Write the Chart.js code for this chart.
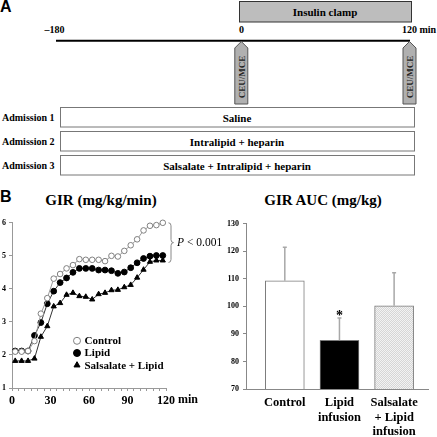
<!DOCTYPE html>
<html>
<head>
<meta charset="utf-8">
<script src="https://cdn.jsdelivr.net/npm/chart.js@4/dist/chart.umd.min.js"></script>
<style>
  body { margin: 0; background: #fff; }
  #fig { position: relative; width: 437px; height: 437px; overflow: hidden; font-family: "Liberation Serif", "Times New Roman", serif; }
  .panel { position: absolute; font-family: "Liberation Sans", Arial, sans-serif; font-weight: bold; font-size: 16px; line-height: 18px; }
  .title { position: absolute; font-weight: bold; font-size: 15px; line-height: 17px; white-space: nowrap; transform: translateX(-50%); }
  canvas { position: absolute; }
</style>
</head>
<body>
<div id="fig">
  <svg id="schema" width="437" height="185" style="position:absolute;left:0;top:0"></svg>
  <div class="panel" style="left:0;top:-2px">A</div>
  <div class="panel" style="left:0;top:188px">B</div>
  <div class="title" style="left:101px;top:192px">GIR (mg/kg/min)</div>
  <div class="title" style="left:323px;top:192px">GIR AUC (mg/kg)</div>
  <canvas id="girChart" width="222" height="222" style="left:0;top:215px"></canvas>
  <canvas id="aucChart" width="217" height="222" style="left:220px;top:215px"></canvas>
</div>
<script>
// Panel A - study design
const timelineLabels = ['\u2013180', '0', '120 min'];
const clampLabel = 'Insulin clamp';
const markerLabel = 'CEU/MCE';
const admissionLabels = ['Admission 1', 'Admission 2', 'Admission 3'];
const admissionTreatments = ['Saline', 'Intralipid + heparin', 'Salsalate + Intralipid + heparin'];

// Panel B - GIR time course
const times = [2.5, 7.5, 12.5, 17.5, 22.5, 27.5, 32.5, 37.5, 42.5, 47.5, 52.5, 57.5,
               62.5, 67.5, 72.5, 77.5, 82.5, 87.5, 92.5, 97.5, 102.5, 107.5, 112.5, 117.5];
const controlGIR = [2.10, 2.10, 2.12, 2.42, 3.25, 3.72, 4.31, 4.45, 4.62, 4.72, 4.90, 4.88,
                    4.88, 4.88, 4.84, 5.00, 4.98, 5.15, 5.32, 5.50, 5.77, 5.91, 5.93, 6.00];
const lipidGIR = [2.12, 2.12, 2.12, 2.59, 2.98, 3.55, 3.93, 4.19, 4.33, 4.50, 4.62, 4.62,
                  4.62, 4.57, 4.57, 4.55, 4.47, 4.51, 4.64, 4.79, 4.92, 4.99, 5.01, 5.01];
const salsalateGIR = [1.82, 1.82, 1.82, 1.89, 2.55, 2.87, 3.47, 3.57, 3.82, 3.88, 3.78, 3.76,
                      3.68, 3.84, 3.88, 3.96, 3.97, 4.05, 4.12, 4.34, 4.58, 4.82, 4.86, 4.86];
const seriesNames = ['Control', 'Lipid', 'Salsalate + Lipid'];
const girTicksX = [0, 30, 60, 90, 120];
const pBracket = [6.0, 4.8];

// Panel B - GIR AUC
const aucCategories = [['Control'], ['Lipid', 'infusion'], ['Salsalate', '+ Lipid', 'infusion']];
const aucMeans = [109.3, 87.7, 100.2];
const aucSEM = [12.2, 8.1, 12.0];
const aucMarks = ['', '*', ''];

const serif = '"Liberation Serif", "Times New Roman", serif';

// ---- Panel A drawn as SVG ----
const svg = document.getElementById('schema');
function el(tag, attrs, text) {
    const e = document.createElementNS('http://www.w3.org/2000/svg', tag);
    for (const k in attrs) e.setAttribute(k, attrs[k]);
    if (text !== undefined) e.textContent = text;
    svg.appendChild(e);
    return e;
}
const boldText = { 'font-family': serif, 'font-weight': 'bold', fill: '#000' };

el('rect', { x: 239.5, y: 1.5, width: 172, height: 20.5, fill: '#bdbdbd', stroke: '#333' });
el('text', Object.assign({ x: 325, y: 12, 'font-size': 11, 'text-anchor': 'middle', 'dominant-baseline': 'central' }, boldText), clampLabel);

const tickPos = [[54.5, 'middle'], [241.5, 'middle'], [402, 'start']];
timelineLabels.forEach((t, i) => {
    el('text', Object.assign({ x: tickPos[i][0], y: 33, 'font-size': 10, 'text-anchor': tickPos[i][1] }, boldText), t);
});
el('line', { x1: 56, y1: 40.7, x2: 410, y2: 40.7, stroke: '#000', 'stroke-width': 2 });

[241.3, 409.5].forEach(cx => {
    el('path', { d: `M${cx},41.5 L${cx + 6.5},48 L${cx + 6.5},104 L${cx - 6.5},104 L${cx - 6.5},48 Z`, fill: '#b0b0b0', stroke: '#555' });
    el('text', Object.assign({ x: 0, y: 0, 'font-size': 9, 'text-anchor': 'middle', 'dominant-baseline': 'central',
        transform: `translate(${cx + 0.5},77) rotate(-90)` }, boldText, { fill: '#222' }), markerLabel);
});

const rowTops = [107.5, 131.5, 155.5];
admissionLabels.forEach((lab, i) => {
    const y = rowTops[i];
    el('rect', { x: 60.5, y: y, width: 354, height: 19.5, fill: '#fff', stroke: '#777' });
    el('text', Object.assign({ x: 237, y: y + 10, 'font-size': 11, 'text-anchor': 'middle', 'dominant-baseline': 'central' }, boldText), admissionTreatments[i]);
    el('text', Object.assign({ x: 54.5, y: y + 10, 'font-size': 10, 'text-anchor': 'end', 'dominant-baseline': 'central' }, boldText), lab);
});

// ---- Panel B left: GIR over time ----
const girLegend = {
    id: 'girLegend',
    afterDraw(chart) {
        const { ctx, chartArea, scales } = chart;
        ctx.save();
        chart.data.datasets.forEach((ds, i) => {
            const x = chartArea.left + 65;
            const y = chartArea.top + 118 + i * 12.2;
            ctx.fillStyle = ds.pointBackgroundColor;
            ctx.strokeStyle = ds.pointBorderColor;
            ctx.lineWidth = 1;
            Chart.helpers.drawPoint(ctx, { pointStyle: ds.pointStyle, radius: 3.5, borderWidth: 1, rotation: 0 }, x, y);
            ctx.fillStyle = '#000';
            ctx.font = 'bold 11px ' + serif;
            ctx.textAlign = 'left';
            ctx.textBaseline = 'middle';
            ctx.fillText(ds.label, x + 7.5, y + 0.5);
        });

        // "min" after the last x label
        const xs = scales.x;
        ctx.font = 'bold 12px ' + serif;
        ctx.textBaseline = 'top';
        const x120 = xs.getPixelForValue(120);
        ctx.fillText('min', x120 + ctx.measureText('120').width / 2 + 3, xs.top + 6);

        // brace + P value
        const y0 = scales.y.getPixelForValue(pBracket[0]);
        const y1 = scales.y.getPixelForValue(pBracket[1]);
        const ym = (y0 + y1) / 2;
        const bx = chartArea.right + 2.5;
        ctx.strokeStyle = '#888';
        ctx.lineWidth = 1;
        ctx.beginPath();
        ctx.moveTo(bx, y0);
        ctx.quadraticCurveTo(bx + 2.5, y0, bx + 2.5, y0 + 3);
        ctx.lineTo(bx + 2.5, ym - 3);
        ctx.quadraticCurveTo(bx + 2.5, ym, bx + 5, ym);
        ctx.quadraticCurveTo(bx + 2.5, ym, bx + 2.5, ym + 3);
        ctx.lineTo(bx + 2.5, y1 - 3);
        ctx.quadraticCurveTo(bx + 2.5, y1, bx, y1);
        ctx.stroke();

        ctx.fillStyle = '#000';
        ctx.textBaseline = 'middle';
        ctx.font = 'italic 11.5px ' + serif;
        const px = chartArea.right + 11;
        ctx.fillText('P', px, ym);
        const pw = ctx.measureText('P').width;
        ctx.font = '11.5px ' + serif;
        ctx.fillText(' < 0.001', px + pw, ym);
        ctx.restore();
    }
};

const toPoints = arr => times.map((t, i) => ({ x: t, y: arr[i] }));

new Chart(document.getElementById('girChart'), {
    type: 'line',
    data: {
        datasets: [{
            label: seriesNames[0],
            data: toPoints(controlGIR),
            borderColor: '#9a9a9a',
            borderWidth: 1,
            pointStyle: 'circle',
            pointRadius: 2.8,
            pointBackgroundColor: '#fff',
            pointBorderColor: '#808080',
            pointBorderWidth: 1,
            clip: false
        }, {
            label: seriesNames[1],
            data: toPoints(lipidGIR),
            borderColor: '#333',
            borderWidth: 1,
            pointStyle: 'circle',
            pointRadius: 2.9,
            pointBackgroundColor: '#000',
            pointBorderColor: '#000',
            pointBorderWidth: 1,
            clip: false
        }, {
            label: seriesNames[2],
            data: toPoints(salsalateGIR),
            borderColor: '#333',
            borderWidth: 1,
            pointStyle: 'triangle',
            pointRadius: 3,
            pointBackgroundColor: '#000',
            pointBorderColor: '#000',
            pointBorderWidth: 1,
            clip: false
        }]
    },
    options: {
        responsive: false,
        animation: false,
        layout: { padding: { left: 0, top: 7, right: 56, bottom: 29 } },
        plugins: { legend: { display: false }, tooltip: { enabled: false } },
        scales: {
            x: {
                type: 'linear',
                min: 0,
                max: 120,
                afterFit: s => { s.height = 20; },
                ticks: {
                    stepSize: 5,
                    autoSkip: false,
                    maxRotation: 0,
                    padding: 3,
                    color: '#000',
                    font: { family: serif, weight: 'bold', size: 12 },
                    callback: v => girTicksX.includes(v) ? String(v) : ''
                },
                grid: { drawOnChartArea: false, tickLength: 3, color: '#999' },
                border: { color: '#999' }
            },
            y: {
                min: 1,
                max: 6,
                afterFit: s => { s.width = 12; },
                ticks: {
                    stepSize: 1,
                    padding: 3,
                    color: '#000',
                    font: { family: serif, weight: 'bold', size: 8 }
                },
                grid: { drawOnChartArea: false, tickLength: 3, color: '#999' },
                border: { color: '#999' }
            }
        }
    },
    plugins: [girLegend]
});

// ---- Panel B right: GIR AUC ----
const pat = document.createElement('canvas');
pat.width = 2; pat.height = 2;
const pctx = pat.getContext('2d');
pctx.fillStyle = '#f3f3f3'; pctx.fillRect(0, 0, 2, 2);
pctx.fillStyle = '#d6d6d6'; pctx.fillRect(0, 0, 1, 1); pctx.fillRect(1, 1, 1, 1);
const stipple = pctx.createPattern(pat, 'repeat');

const errorBars = {
    id: 'errorBars',
    afterDatasetsDraw(chart) {
        const { ctx, scales: { y } } = chart;
        const meta = chart.getDatasetMeta(0);
        ctx.save();
        meta.data.forEach((bar, i) => {
            const top = y.getPixelForValue(aucMeans[i] + aucSEM[i]);
            ctx.strokeStyle = '#a8a8a8';
            ctx.lineWidth = 1.5;
            ctx.beginPath();
            ctx.moveTo(bar.x, bar.y);
            ctx.lineTo(bar.x, top);
            ctx.moveTo(bar.x - 2, top);
            ctx.lineTo(bar.x + 2, top);
            ctx.stroke();
            if (aucMarks[i]) {
                ctx.fillStyle = '#000';
                ctx.font = 'bold 14px ' + serif;
                ctx.textAlign = 'center';
                ctx.textBaseline = 'alphabetic';
                ctx.fillText(aucMarks[i], bar.x, top + 2);
            }
        });
        ctx.restore();
    }
};

new Chart(document.getElementById('aucChart'), {
    type: 'bar',
    data: {
        datasets: [{
            data: aucMeans.map((v, i) => ({ x: i, y: v })),
            backgroundColor: ['#fff', '#000', stipple],
            borderColor: '#7a7a7a',
            borderWidth: 1,
            barThickness: 39
        }]
    },
    options: {
        responsive: false,
        animation: false,
        layout: { padding: { left: 0, top: 7, right: 9, bottom: 0 } },
        plugins: { legend: { display: false }, tooltip: { enabled: false } },
        scales: {
            x: {
                type: 'linear',
                min: -0.71,
                max: 2.62,
                offset: false,
                afterFit: s => { s.height = 48; },
                afterBuildTicks: s => { s.ticks = aucCategories.map((c, i) => ({ value: i })); },
                ticks: {
                    autoSkip: false,
                    maxRotation: 0,
                    padding: 7,
                    color: '#000',
                    font: { family: serif, weight: 'bold', size: 12.5, lineHeight: 1.15 },
                    callback: v => aucCategories[v]
                },
                grid: { display: false, drawTicks: false },
                border: { color: '#888' }
            },
            y: {
                min: 70,
                max: 130,
                afterFit: s => { s.width = 26; },
                ticks: {
                    stepSize: 10,
                    padding: 4,
                    color: '#000',
                    font: { family: serif, weight: 'bold', size: 8 }
                },
                grid: { drawOnChartArea: false, tickLength: 3, color: '#888' },
                border: { color: '#888' }
            }
        }
    },
    plugins: [errorBars]
});
</script>
</body>
</html>
